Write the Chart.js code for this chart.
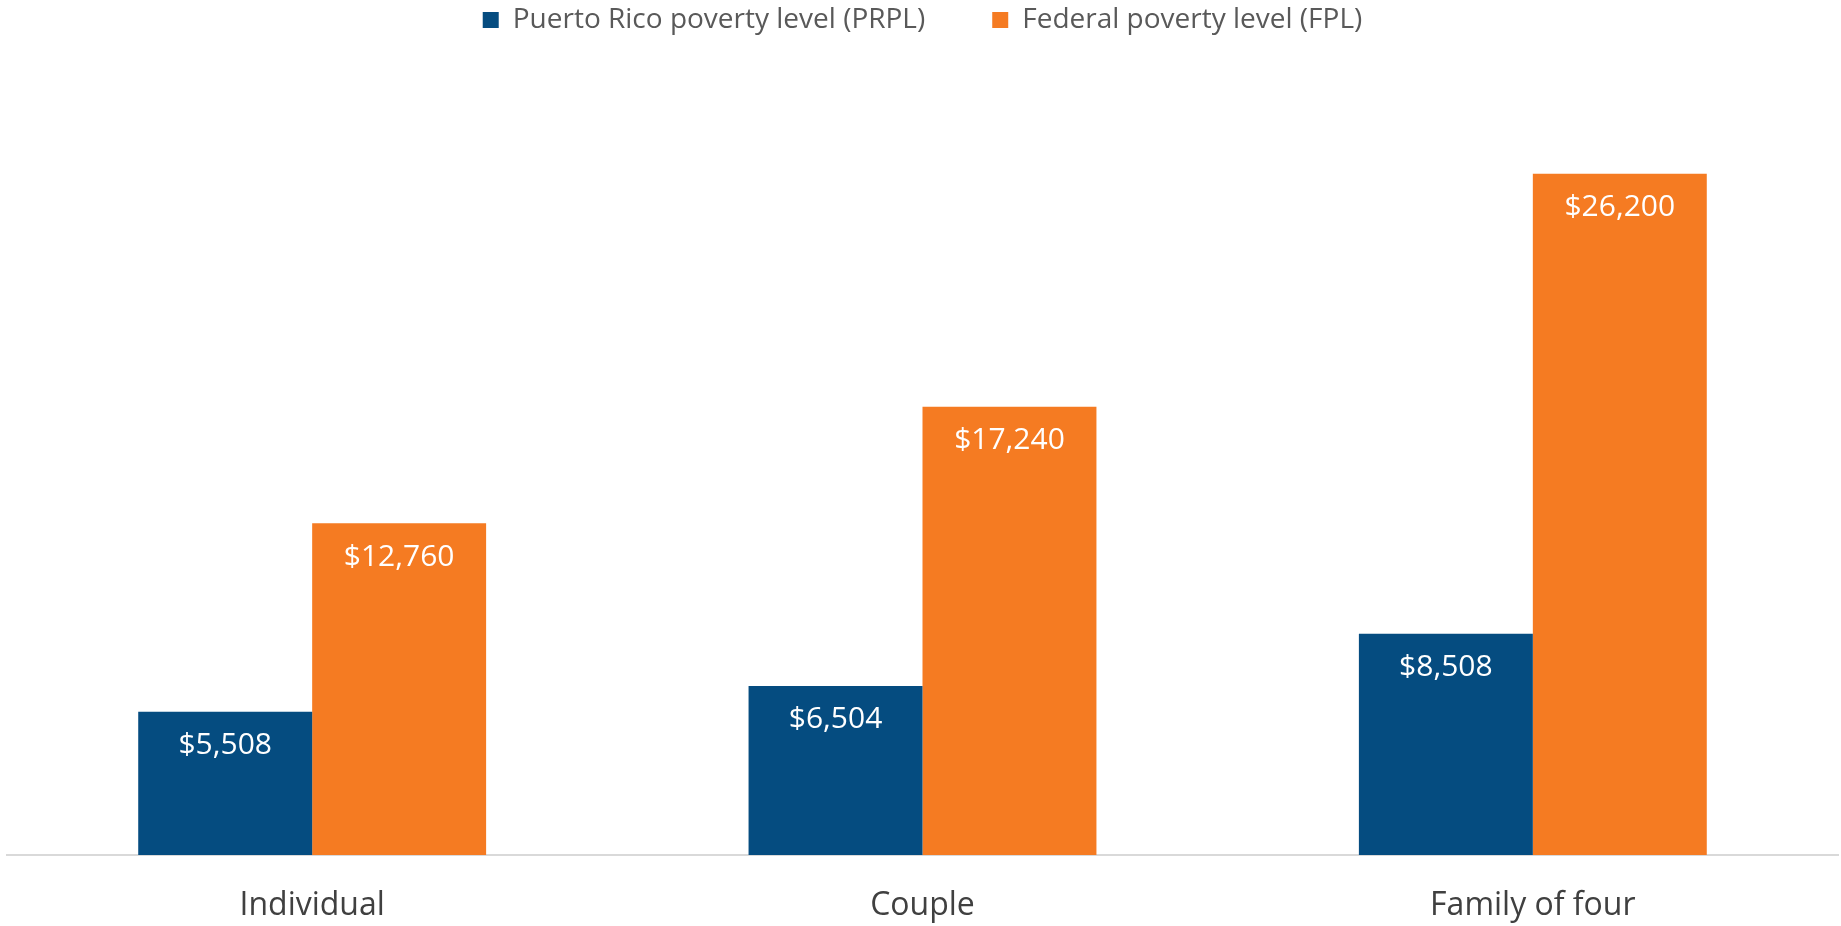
<!DOCTYPE html>
<html>
<head>
<meta charset="utf-8">
<script src="https://cdn.jsdelivr.net/npm/chart.js@4/dist/chart.umd.min.js"></script>
<style>
  html, body { margin: 0; padding: 0; background: #ffffff; }
  #wrap { width: 1841px; height: 926px; position: relative; }
</style>
</head>
<body>
<div id="wrap"><canvas id="c"></canvas></div>
<script>
const categories = ["Individual", "Couple", "Family of four"];
const seriesNames = ["Puerto Rico poverty level (PRPL)", "Federal poverty level (FPL)"];
const prplValues = [5508, 6504, 8508];
const fplValues = [12760, 17240, 26200];
const yMax = 30000;

const FONT = "'Open Sans', 'Noto Sans', sans-serif";

const valueLabels = {
  id: 'valueLabels',
  afterDatasetsDraw(chart) {
    const ctx = chart.ctx;
    ctx.save();
    ctx.fillStyle = '#ffffff';
    ctx.font = '30px ' + FONT;
    ctx.textAlign = 'center';
    ctx.textBaseline = 'middle';
    chart.data.datasets.forEach((ds, i) => {
      const meta = chart.getDatasetMeta(i);
      meta.data.forEach((el, j) => {
        const v = ds.data[j];
        ctx.fillText('$' + v.toLocaleString('en-US'), el.x, el.y + 34);
      });
    });
    ctx.restore();
  }
};

const legendHeight = {
  id: 'legendHeight',
  beforeInit(chart) {
    const orig = chart.legend.fit;
    chart.legend.fit = function () {
      orig.call(this);
      this.height = 136;
    };
  }
};

new Chart(document.getElementById('c'), {
  type: 'bar',
  data: {
    labels: categories,
    datasets: [
      { label: seriesNames[0], data: prplValues, backgroundColor: '#054c80' },
      { label: seriesNames[1], data: fplValues, backgroundColor: '#f57b22' }
    ]
  },
  options: {
    responsive: true,
    maintainAspectRatio: false,
    animation: false,
    devicePixelRatio: 1,
    layout: { padding: { left: 7, right: 3, top: -61, bottom: 3 } },
    datasets: { bar: { categoryPercentage: 0.57, barPercentage: 1.0 } },
    plugins: {
      tooltip: { enabled: false },
      legend: {
        position: 'top',
        labels: {
          boxWidth: 16,
          boxHeight: 16,
          padding: 67,
          color: '#595959',
          font: { family: FONT, size: 28 }
        }
      }
    },
    scales: {
      x: {
        grid: { display: false, drawTicks: false },
        border: { display: true, color: '#d9d9d9', width: 2 },
        ticks: { color: '#404040', padding: 32, font: { family: FONT, size: 32 } },
        afterFit(scale) { scale.height = 68; }
      },
      y: {
        display: false,
        min: 0,
        max: yMax
      }
    }
  },
  plugins: [valueLabels, legendHeight]
});
</script>
</body>
</html>
